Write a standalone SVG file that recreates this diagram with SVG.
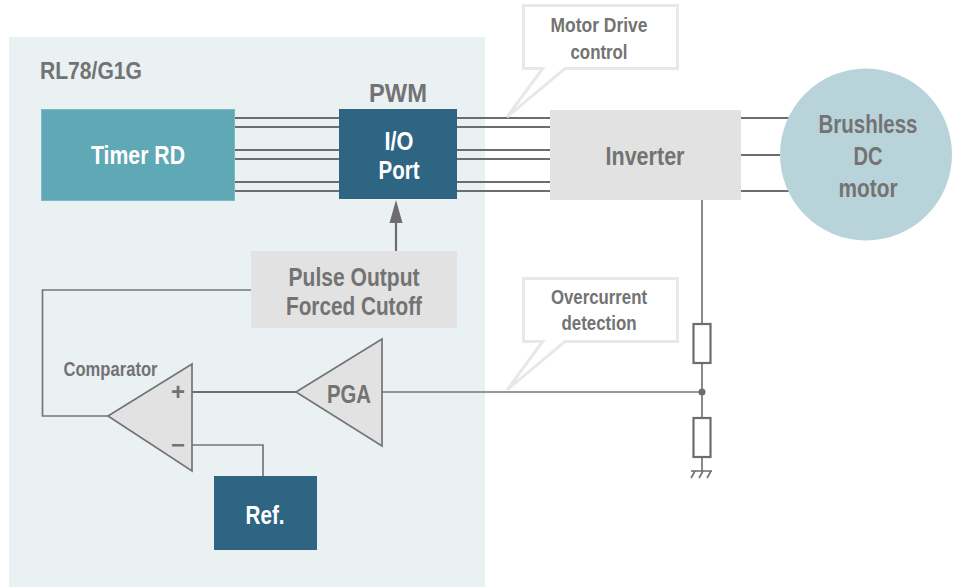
<svg xmlns="http://www.w3.org/2000/svg" width="962" height="587" viewBox="0 0 962 587">
<style>
text{font-family:"Liberation Sans",Arial,sans-serif;font-weight:700;text-anchor:middle}
.g{fill:#737373}.w{fill:#fff}
.s{font-size:20px}.m{font-size:26px}
.w2{stroke:#777;stroke-width:1.7;fill:none}
.w3{stroke:#6d6d6d;stroke-width:2.2;fill:none}
.tri{fill:#e2e2e2;stroke:#747474;stroke-width:1.7}
.co{fill:#fff;stroke:#e8e8e8;stroke-width:3}
.res{fill:#fff;stroke:#6d6d6d;stroke-width:2.2}
</style>
<rect x="9" y="37" width="476" height="550" fill="#e9f1f3"/>
<text class="g" x="91" y="79" textLength="102" lengthAdjust="spacingAndGlyphs" style="font-size:23px">RL78/G1G</text>
<g id="connectors">
<path class="w3" d="M235 118H339M235 127H339M235 150H339M235 159H339M235 182H339M235 191H339M457 118H550M457 127H550M457 150H550M457 159H550M457 182H550M457 191H550M741 118H800M741 155H782M741 191H800"/>
<path class="w3" d="M396 251V222"/>
<polygon points="396,200 402.500,223 389.500,223" fill="#6d6d6d"/>
<path class="w2" d="M251 290H42.500V416H108M192 445H263V476M382 392H702M702 200V471"/>
<path class="w3" d="M192 392H296"/>
<circle cx="702" cy="392" r="3.500" fill="#6d6d6d"/>
<path d="M691 471H712M695 471L691 478M703 471L699 478M711 471L707 478" stroke="#6d6d6d" stroke-width="1.600" fill="none"/>
</g>
<g id="timer-rd"><rect x="41.500" y="109.500" width="193" height="91" fill="#5fa8b5" stroke="#7cb9c4"/><text class="w m" x="138" y="164" textLength="94" lengthAdjust="spacingAndGlyphs">Timer RD</text></g>
<g id="pwm-label"><text class="g m" x="398" y="102" textLength="58" lengthAdjust="spacingAndGlyphs">PWM</text></g>
<g id="io-port"><rect x="339" y="109" width="118" height="90" fill="#2e6583"/><text class="w m" x="399" y="150" textLength="29" lengthAdjust="spacingAndGlyphs">I/O</text><text class="w m" x="399" y="179" textLength="41" lengthAdjust="spacingAndGlyphs">Port</text></g>
<g id="pulse-cutoff"><rect x="251" y="251" width="206" height="77" fill="#e2e2e2"/><text class="g m" x="354" y="286" textLength="131" lengthAdjust="spacingAndGlyphs">Pulse Output</text><text class="g m" x="354" y="315" textLength="136" lengthAdjust="spacingAndGlyphs">Forced Cutoff</text></g>
<g id="inverter"><rect x="550" y="110" width="191" height="90" fill="#e2e2e2"/><text class="g m" x="645" y="165" textLength="79" lengthAdjust="spacingAndGlyphs">Inverter</text></g>
<g id="motor"><circle cx="866" cy="154.500" r="86" fill="#b9d3da"/><text class="g m" x="868" y="133" textLength="99" lengthAdjust="spacingAndGlyphs">Brushless</text><text class="g m" x="868" y="165" textLength="29" lengthAdjust="spacingAndGlyphs">DC</text><text class="g m" x="868" y="197" textLength="59" lengthAdjust="spacingAndGlyphs">motor</text></g>
<g id="callout-motor"><path class="co" d="M523.500 5.500H677.500V68.500H565L507 117L542.700 68.500H523.500Z"/><text class="g s" x="599" y="32" textLength="97" lengthAdjust="spacingAndGlyphs">Motor Drive</text><text class="g s" x="599" y="59" textLength="57" lengthAdjust="spacingAndGlyphs">control</text></g>
<g id="callout-over"><path class="co" d="M523.500 278.500H677.500V341.500H565L507 390L542.700 341.500H523.500Z"/><text class="g s" x="599" y="304" textLength="96" lengthAdjust="spacingAndGlyphs">Overcurrent</text><text class="g s" x="599" y="330" textLength="75" lengthAdjust="spacingAndGlyphs">detection</text></g>
<g id="comparator"><polygon class="tri" points="108,416 192,364 192,471"/><text class="g s" x="110.500" y="376" textLength="94" lengthAdjust="spacingAndGlyphs">Comparator</text><text class="g" x="178" y="400" style="font-size:24px">+</text><text class="g" x="178" y="453" style="font-size:24px">−</text></g>
<g id="pga"><polygon class="tri" points="296,392 382,339 382,446"/><text class="g m" x="349" y="403" textLength="44" lengthAdjust="spacingAndGlyphs">PGA</text></g>
<g id="ref"><rect x="214" y="476" width="103" height="74" fill="#2e6583"/><text class="w m" x="265" y="524" textLength="39" lengthAdjust="spacingAndGlyphs">Ref.</text></g>
<g id="resistors"><rect class="res" x="693.500" y="324" width="17" height="39"/><rect class="res" x="693.500" y="418" width="17" height="39"/></g>
</svg>
